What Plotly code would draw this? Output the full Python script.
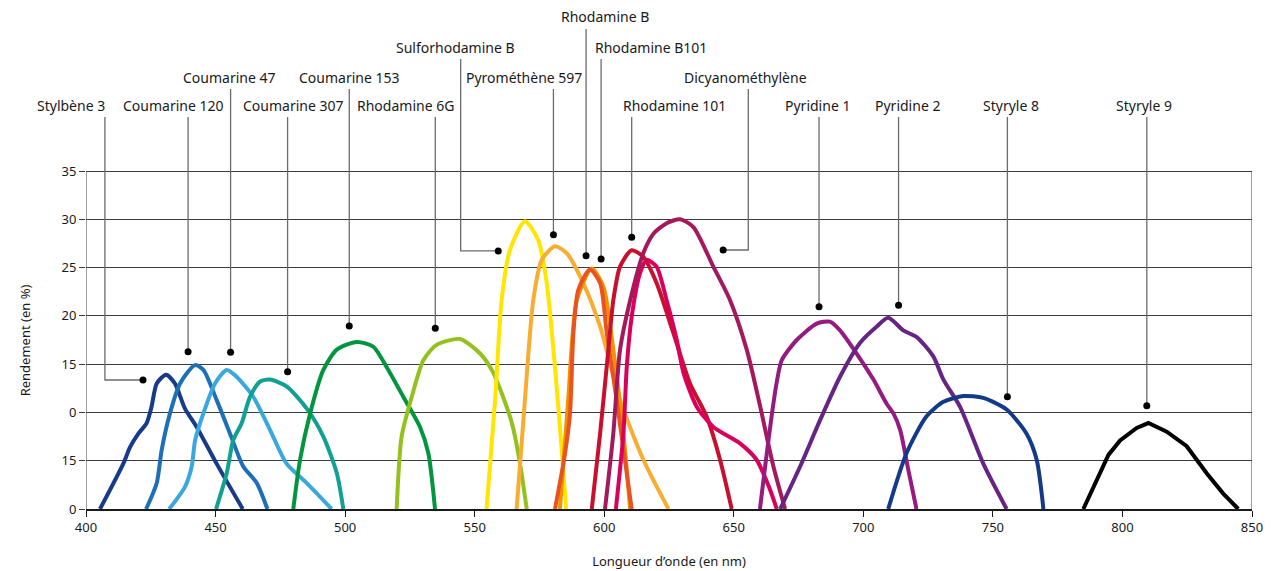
import plotly.graph_objects as go

# ---------------- data ----------------
stylbene3_x = [405.4, 414.4, 417.0, 420.2, 423.4, 425.3, 427.3, 430.9, 434.3, 438.2, 442.7, 450.4, 460.5]
stylbene3_y = [0, 4.7, 6.4, 7.8, 8.9, 10.6, 13.0, 13.9, 13.0, 10.4, 8.5, 4.7, 0]

coumarine120_x = [423.2, 427.3, 429.2, 432.4, 436.3, 442.1, 445.3, 450.4, 455.6, 460.7, 465.9, 470.0]
coumarine120_y = [0, 2.7, 6.1, 9.9, 13.0, 14.9, 14.4, 11.3, 7.8, 4.4, 2.7, 0]

coumarine47_x = [432.1, 438.2, 440.8, 442.1, 445.3, 449.8, 454.3, 458.1, 464.6, 471.0, 477.4, 485.1, 494.8]
coumarine47_y = [0, 2.3, 4.4, 7.1, 9.9, 13.0, 14.4, 13.7, 11.6, 8.2, 4.7, 2.7, 0]

coumarine307_x = [450.2, 454.3, 456.8, 460.1, 463.3, 467.2, 471.0, 477.4, 485.2, 491.6, 496.8, 499.3]
coumarine307_y = [0, 3.7, 7.1, 8.9, 11.6, 13.2, 13.4, 12.7, 10.4, 7.5, 3.7, 0]

coumarine153_x = [480.0, 482.6, 486.5, 491.6, 496.8, 504.5, 510.9, 516.0, 522.5, 528.9, 532.1, 534.7]
coumarine153_y = [0, 5.1, 9.9, 14.4, 16.5, 17.3, 16.8, 14.7, 11.6, 8.5, 5.8, 0]

rhodamine6g_x = [519.9, 521.8, 525.7, 530.2, 535.3, 544.3, 552.1, 557.2, 563.6, 565.0, 567.5, 570.1]
rhodamine6g_y = [0, 7.5, 11.6, 15.4, 17.0, 17.6, 16.1, 14.1, 9.6, 8.2, 4.7, 0]

sulforhodamine_x = [554.6, 557.9, 560.4, 563.6, 569.4, 574.6, 577.8, 581.0, 583.6, 585.3]
sulforhodamine_y = [0, 11.3, 21.6, 26.8, 29.8, 27.8, 23.4, 14.7, 6.1, 0]

pyromethene_x = [566.2, 569.4, 572.6, 575.9, 581.0, 585.5, 591.9, 598.4, 606.1, 615.1, 624.8]
pyromethene_y = [0, 11.3, 21.6, 25.8, 27.2, 26.5, 23.4, 18.9, 11.3, 5.1, 0]

orange_x = [582.9, 586.1, 589.4, 595.2, 599.7, 603.5, 607.4, 610.0]
orange_y = [0, 11.3, 21.6, 24.9, 23.0, 16.5, 7.8, 0]

rhodamineb_x = [581.0, 584.9, 586.8, 588.1, 590.0, 594.5, 598.4, 601.0, 604.8, 610.6]
rhodamineb_y = [0, 5.8, 9.9, 18.2, 22.7, 24.8, 23.4, 18.2, 11.3, 0]

rhodamine101_x = [595.2, 598.4, 601.6, 603.5, 606.1, 610.6, 615.1, 620.2, 626.7, 633.1, 639.5, 644.7, 649.2]
rhodamine101_y = [0, 7.8, 16.5, 21.6, 25.1, 26.8, 26.1, 23.4, 18.2, 13.0, 9.6, 5.1, 0]

rhodamineb101_x = [604.5, 607.4, 608.7, 610.6, 613.8, 616.4, 620.2, 624.1, 628.0, 630.6, 635.7, 642.1, 652.4, 658.8, 664.0, 666.6]
rhodamineb101_y = [0, 7.8, 14.7, 19.9, 24.4, 25.8, 25.1, 21.6, 17.5, 14.1, 10.6, 8.5, 6.8, 5.1, 2.0, 0]

dicyano_x = [600.3, 603.5, 606.1, 610.0, 615.1, 619.0, 624.1, 629.3, 634.4, 642.1, 648.6, 655.0, 660.2, 665.3, 669.8]
dicyano_y = [0, 7.8, 16.5, 21.6, 26.5, 28.5, 29.6, 30.0, 29.2, 25.1, 21.6, 16.5, 10.6, 4.4, 0]

pyridine1_x = [660.1, 662.1, 664.6, 666.5, 668.5, 674.3, 682.0, 687.1, 691.0, 697.4, 703.9, 709.0, 711.6, 714.2, 717.4, 720.5]
pyridine1_y = [0, 4.4, 9.6, 13.0, 15.4, 17.5, 19.2, 19.4, 18.5, 16.1, 13.4, 10.9, 9.9, 8.2, 4.0, 0]

pyridine2_x = [667.9, 675.6, 683.3, 691.0, 698.7, 705.2, 709.6, 715.4, 720.6, 727.0, 730.9, 737.3, 746.3, 755.3]
pyridine2_y = [0, 4.4, 9.2, 13.7, 17.2, 18.9, 19.8, 18.5, 17.8, 15.8, 13.4, 10.6, 4.7, 0]

styryle8_x = [709.6, 716.7, 724.4, 730.9, 738.6, 746.3, 755.3, 763.0, 766.9, 769.5]
styryle8_y = [0, 5.8, 9.6, 11.1, 11.7, 11.5, 10.3, 7.8, 5.1, 0]

styryle9_x = [784.9, 790.0, 794.6, 799.1, 805.5, 810.0, 817.1, 824.8, 832.5, 838.9, 844.7]
styryle9_y = [0, 3.0, 5.6, 7.1, 8.4, 8.9, 8.0, 6.5, 3.7, 1.6, 0]

curves = [
    ("Stylbène 3", stylbene3_x, stylbene3_y, "#173a8a", "spline"),
    ("Coumarine 120", coumarine120_x, coumarine120_y, "#1d70b7", "spline"),
    ("Coumarine 47", coumarine47_x, coumarine47_y, "#3ba8dd", "spline"),
    ("Coumarine 307", coumarine307_x, coumarine307_y, "#12a093", "spline"),
    ("Coumarine 153", coumarine153_x, coumarine153_y, "#00963f", "spline"),
    ("Rhodamine 6G", rhodamine6g_x, rhodamine6g_y, "#95c11f", "spline"),
    ("Sulforhodamine B", sulforhodamine_x, sulforhodamine_y, "#ffe500", "spline"),
    ("Pyrométhène 597", pyromethene_x, pyromethene_y, "#f8ad32", "spline"),
    ("Orange", orange_x, orange_y, "#f39200", "spline"),
    ("Rhodamine B", rhodamineb_x, rhodamineb_y, "#e8541e", "spline"),
    ("Rhodamine 101", rhodamine101_x, rhodamine101_y, "#c8102e", "spline"),
    ("Rhodamine B101", rhodamineb101_x, rhodamineb101_y, "#d9005b", "spline"),
    ("Dicyanométhylène", dicyano_x, dicyano_y, "#a3195b", "spline"),
    ("Pyridine 1", pyridine1_x, pyridine1_y, "#951b81", "spline"),
    ("Pyridine 2", pyridine2_x, pyridine2_y, "#662483", "spline"),
    ("Styryle 8", styryle8_x, styryle8_y, "#133a88", "spline"),
    ("Styryle 9", styryle9_x, styryle9_y, "#000000", "linear"),
]

# labels and leader lines
label_names = ["Stylbène 3", "Coumarine 120", "Coumarine 47", "Coumarine 307", "Coumarine 153",
               "Rhodamine 6G", "Sulforhodamine B", "Pyrométhène 597", "Rhodamine B", "Rhodamine B101",
               "Dicyanométhylène", "Rhodamine 101", "Pyridine 1", "Pyridine 2", "Styryle 8", "Styryle 9"]
label_x = [394.2, 433.8, 455.2, 479.9, 501.7, 523.3, 542.6, 569.0, 600.3, 617.9,
           654.5, 627.1, 682.5, 716.9, 756.8, 808.5]
label_y = [41.83, 41.83, 44.73, 41.83, 44.73, 41.83, 47.84, 44.73, 50.95, 47.84,
           44.73, 41.83, 41.83, 41.83, 41.83, 41.83]
leader_x = [407.3, 439.4, 455.8, 477.8, 501.6, 534.8, 544.6, 580.4, 593.0, 598.8,
            655.6, 610.6, 682.9, 713.6, 755.6, 809.4]
leader_top = [40.59, 40.59, 43.49, 40.59, 43.49, 40.59, 46.6, 43.49, 49.7, 46.6,
              43.49, 40.59, 40.59, 40.59, 40.59, 40.59]
leader_end = [13.36, 16.29, 16.23, 14.22, 18.95, 18.71, 26.72, 28.40, 26.23, 25.89,
              26.82, 28.13, 20.95, 21.09, 11.63, 10.70]
dot_x = [422.0, 439.4, 455.8, 477.8, 501.6, 534.8, 559.1, 580.4, 593.0, 598.8,
         645.9, 610.6, 682.9, 713.6, 755.6, 809.4]

y_tickvals = [0, 5, 10, 15, 20, 25, 30, 35]
y_ticktext = ["0", "15", "0", "15", "20", "25", "30", "35"]
x_tickvals = [400, 450, 500, 550, 600, 650, 700, 750, 800, 850]

X_MIN, X_MAX = 400, 850
FONT = "Noto Sans"

fig = go.Figure()

for name, xs, ys, col, shp in curves:
    line = dict(color=col, width=4, shape=shp)
    if shp == "spline":
        line["smoothing"] = 0.7
    fig.add_trace(go.Scatter(x=xs, y=ys, mode="lines", name=name, line=line,
                             hoverinfo="name"))

# leader lines
for lx, lt, le, dx in zip(leader_x, leader_top, leader_end, dot_x):
    xs = [lx, lx]
    ys = [lt, le]
    if dx != lx:
        xs.append(dx)
        ys.append(le)
    fig.add_trace(go.Scatter(x=xs, y=ys, mode="lines", line=dict(color="#6b6b6b", width=1.3),
                             hoverinfo="skip", showlegend=False))

fig.add_trace(go.Scatter(x=dot_x, y=leader_end, mode="markers",
                         marker=dict(color="#000000", size=7), hoverinfo="skip", showlegend=False))

for name, x, y in zip(label_names, label_x, label_y):
    fig.add_annotation(x=(x - X_MIN) / (X_MAX - X_MIN), y=y, xref="paper", yref="y",
                       text=name, showarrow=False,
                       font=dict(family=FONT, size=14, color="#1a1a1a"),
                       xanchor="center", yanchor="middle")

# vertical frame lines (0 to 35)
for xv in [X_MIN, X_MAX]:
    fig.add_shape(type="line", xref="x", yref="y", x0=xv, x1=xv, y0=0, y1=35,
                  line=dict(color="#808080", width=1.5), layer="below")

fig.add_annotation(xref="paper", yref="y", x=-0.052, y=17.5, text="Rendement (en %)",
                   textangle=-90, showarrow=False, xanchor="center", yanchor="middle",
                   font=dict(family=FONT, size=13, color="#1a1a1a"))

fig.update_layout(
    width=1275, height=563,
    margin=dict(l=78, r=31, t=0, b=62),
    plot_bgcolor="white", paper_bgcolor="white",
    showlegend=False,
    font=dict(family=FONT, size=13, color="#1a1a1a"),
    xaxis=dict(range=[X_MIN, X_MAX], tickvals=x_tickvals, showgrid=False, zeroline=False,
               showline=True, linecolor="#1a1a1a", linewidth=1.5,
               ticks="outside", ticklen=6, tickcolor="#1a1a1a",
               tickfont=dict(family=FONT, size=13, color="#1a1a1a"),
               title=dict(text="Longueur d’onde (en nm)", standoff=22,
                          font=dict(family=FONT, size=13, color="#1a1a1a"))),
    yaxis=dict(range=[0, 51.88], tickvals=y_tickvals, ticktext=y_ticktext,
               showgrid=True, gridcolor="#3c3c3c", gridwidth=1, zeroline=False,
               showline=False, ticks="outside", ticklen=6, tickcolor="#3c3c3c",
               tickfont=dict(family=FONT, size=13, color="#1a1a1a")),
)

fig.write_html("out.html")
